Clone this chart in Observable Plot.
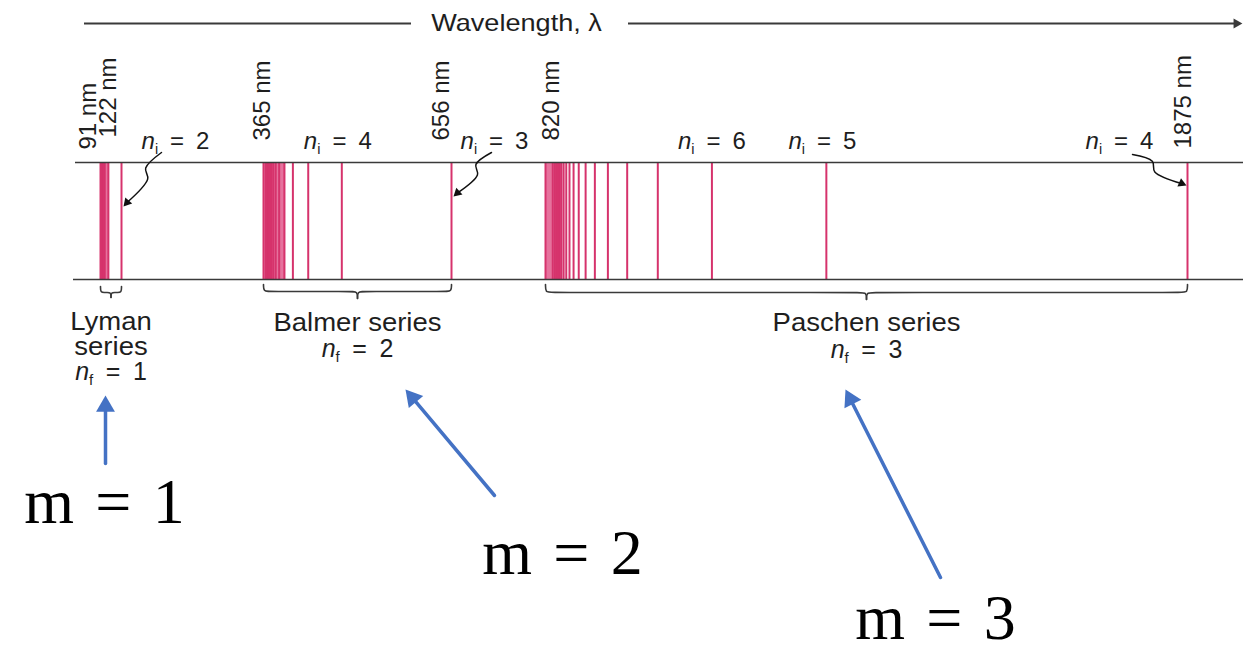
<!DOCTYPE html>
<html>
<head>
<meta charset="utf-8">
<script src="https://cdn.jsdelivr.net/npm/d3@7"></script>
<script src="https://cdn.jsdelivr.net/npm/@observablehq/plot@0.6"></script>
<style>
  html, body { margin: 0; padding: 0; background: #fff; }
  #chart svg { display: block; background: #fff; }
</style>
</head>
<body>
<div id="chart"></div>
<script>
// ---------------- data ----------------
// hydrogen emission lines (nm)
const lymanLines = [121.5, 102.5, 97.2, 94.9, 93.7, 93.0, 92.6, 92.3, 92.0, 91.8, 91.1];
const balmerLines = [656.3, 486.1, 434.0, 410.2, 397.0, 388.9, 383.5, 379.8, 377.1, 375.0, 373.4, 372.2, 371.2, 370.4, 369.7, 369.2, 368.7, 368.3, 364.6];
const paschenLines = [1875.1, 1281.8, 1093.8, 1004.9, 954.6, 922.9, 901.5, 886.3, 875.0, 866.5, 859.8, 854.5, 850.2, 846.7, 843.8, 841.3, 839.2, 835.9, 832.3, 820.4];
// series-limit (crowded) regions, nm
const limitBands = [[91.1, 103.5], [364.6, 399.0], [820.4, 848.0]];
const seriesNames = ["Lyman\nseries", "Balmer series", "Paschen series"];
const seriesNf = [1, 2, 3];
const seriesRange = [[91.1, 121.5], [364.6, 656.3], [820.4, 1875.1]];
// labelled wavelengths (tick labels)
const tickLabels = [91, 122, 365, 656, 820, 1875];
// initial level labels and the line each one names
const niValues = [2, 4, 3, 6, 5, 4];
const niLines = [121.5, 486.1, 656.3, 1093.8, 1281.8, 1875.1];
const mValues = [1, 2, 3];

// ---------------- layout ----------------
const W = 1243, H = 650;
const xDomain = [91.1, 121.5, 364.6, 656.3, 820.4, 1875.1];   // not-to-scale axis anchors
const xRange = [100, 121, 263, 451, 545, 1187];
const xs = Plot.scale({x: {type: "linear", domain: xDomain, range: xRange}});
const nm = p => xs.invert(p);
const px = v => xs.apply(v);

const ink = "#3a3a3a";
const textInk = "#1e1e1e";
const lineColor = "#d6336c";
const bandColor = "#e2598c";
const blue = "#4472c4";
const sans = "'Liberation Sans', Arial, Helvetica, sans-serif";
const serif = "'Liberation Serif', 'Times New Roman', serif";
const EN = "\u2002", TPM = "\u2004";

const headerY = 23, yTop = 162, yBottom = 279;
const tickDx = [-12, -13, -1.5, -9.5, 6.5, -4.5];
const tickBase = [149, 137, 140, 140, 140, 148];
const niDx = [54, -4, 43, 0, -4, -68];
const nameTop = [312, 313, 313];
const nfBase = [379, 356, 357];
const braceY = [[286, 292, 297], [284, 291, 298], [284, 292, 299]];

const allLines = [...lymanLines, ...balmerLines, ...paschenLines];

// braces
function brace(aPx, bPx, [y0, y1, y2], id) {
  const m = (aPx + bPx) / 2, e = Math.min(6, (bPx - aPx) / 5);
  const L = [[aPx, y0], [aPx, y1], [aPx + e, y1], [m - e, y1], [m, y1], [m, y2]];
  const R = [[m, y2], [m, y1], [m + e, y1], [bPx - e, y1], [bPx, y1], [bPx, y0]];
  return [...L.map(p => ({x: nm(p[0]), y: p[1], z: id + "L"})),
          ...R.map(p => ({x: nm(p[0]), y: p[1], z: id + "R"}))];
}
const braceData = seriesRange.flatMap((r, i) => brace(px(r[0]), px(r[1]), braceY[i], i));

// arrow helper
function headFor(tail, tip, r) {
  const dx = tip[0] - tail[0], dy = tip[1] - tail[1], L = Math.hypot(dx, dy);
  const ux = dx / L, uy = dy / L, d = 1.555 * r;
  const c = [tip[0] - ux * d, tip[1] - uy * d];
  const rot = Math.atan2(ux, -uy) * 180 / Math.PI;
  return {c, rot};
}
// blue m-arrows
const mArrowPx = [
  {tail: [105, 463], tip: [105, 395]},
  {tail: [494, 495], tip: [405, 389]},
  {tail: [940, 577], tip: [845, 389]}
];
const mHeadR = 7;
const mShafts = [], mHeads = [];
mArrowPx.forEach((a, i) => {
  const h = headFor(a.tail, a.tip, mHeadR);
  mShafts.push({x: nm(a.tail[0]), y: a.tail[1], z: i}, {x: nm(h.c[0]), y: h.c[1], z: i});
  mHeads.push({x: nm(h.c[0]), y: h.c[1], rot: h.rot});
});
const mLabelPos = [[104, 522], [562, 573], [935, 638]];

// squiggly pointers
const squigPx = [
  {s: [161, 152], e: [123, 206], sign: 1},
  {s: [491, 152], e: [453, 196], sign: 1},
  {s: [1132, 154], e: [1186, 185], sign: -1}
];
const sqR = 3.4;
const sqLines = [], sqHeads = [];
squigPx.forEach((q, i) => {
  const dx = q.e[0] - q.s[0], dy = q.e[1] - q.s[1], L = Math.hypot(dx, dy);
  const nx = -dy / L * q.sign, ny = dx / L * q.sign;
  const p1 = [q.s[0] + 0.33 * dx + 4 * nx, q.s[1] + 0.33 * dy + 4 * ny];
  const p2 = [q.s[0] + 0.45 * dx - 4 * nx, q.s[1] + 0.45 * dy - 4 * ny];
  const h = headFor(p2, q.e, sqR);
  [q.s, p1, p2, h.c].forEach(p => sqLines.push({x: nm(p[0]), y: p[1], z: i}));
  sqHeads.push({x: nm(h.c[0]), y: h.c[1], rot: h.rot});
});

const midNm = i => nm((px(seriesRange[i][0]) + px(seriesRange[i][1])) / 2);

const chart = Plot.plot({
  width: W, height: H, margin: 0,
  x: {type: "linear", domain: xDomain, range: xRange, axis: null},
  y: {type: "linear", domain: [0, H], range: [0, H], axis: null},
  style: {background: "#fff", fontFamily: sans, overflow: "visible"},
  marks: [
    // wavelength header arrow
    Plot.ruleY([headerY], {x1: nm(84), x2: nm(411), stroke: ink, strokeWidth: 2}),
    Plot.ruleY([headerY], {x1: nm(628), x2: nm(1234), stroke: ink, strokeWidth: 2}),
    Plot.dot([0], {x: nm(1236), y: headerY, symbol: "triangle", r: 3.8, rotate: 90, fill: ink}),
    Plot.text(["Wavelength, λ"], {x: nm(516), y: headerY, text: d => d, fontSize: 24, fill: textInk,
      lineAnchor: "middle", fontFamily: sans, className: "wide"}),

    // spectrum
    Plot.rect(limitBands, {x1: d => d[0], x2: d => d[1], y1: yTop, y2: yBottom, fill: bandColor, fillOpacity: 0.85}),
    Plot.ruleX(allLines, {x: d => d, y1: yTop, y2: yBottom, stroke: lineColor, strokeWidth: 2}),
    Plot.ruleY([yTop], {x1: nm(75), x2: nm(1243), stroke: ink, strokeWidth: 1.6}),
    Plot.ruleY([yBottom], {x1: nm(73), x2: nm(1243), stroke: ink, strokeWidth: 1.6}),

    // rotated wavelength labels
    Plot.text(tickLabels, {x: (d, i) => nm(px(d) + tickDx[i]), y: (d, i) => tickBase[i], text: d => `${d} nm`, rotate: -90,
      textAnchor: "start", lineAnchor: "middle", fontSize: 24, fill: textInk, fontFamily: sans}),

    // n_i labels
    Plot.text(niValues, {x: (d, i) => nm(px(niLines[i]) + niDx[i]), y: 148, text: d => `n_i = ${d}`,
      textAnchor: "middle", lineAnchor: "bottom", fontSize: 24, fill: textInk, fontFamily: sans}),

    // squiggly pointers
    Plot.line(sqLines, {x: "x", y: "y", z: "z", curve: "catmull-rom", stroke: "#111", strokeWidth: 1.5}),
    Plot.dot(sqHeads, {x: "x", y: "y", rotate: "rot", symbol: "triangle", r: sqR, fill: "#111"}),

    // braces
    Plot.line(braceData, {x: "x", y: "y", z: "z", curve: "basis", stroke: ink, strokeWidth: 1.6}),

    // series names
    Plot.text(seriesNames, {x: (d, i) => midNm(i), y: (d, i) => nameTop[i],
      text: d => d, textAnchor: "middle", lineAnchor: "top", lineHeight: 1.0, fontSize: 25, fill: textInk,
      fontFamily: sans, className: "wide2"}),
    Plot.text(seriesNf, {x: (d, i) => midNm(i), y: (d, i) => nfBase[i],
      text: d => `n_f = ${d}`, textAnchor: "middle", lineAnchor: "bottom", fontSize: 25, fill: textInk, fontFamily: sans}),

    // blue arrows
    Plot.line(mShafts, {x: "x", y: "y", z: "z", stroke: blue, strokeWidth: 3.5}),
    Plot.dot(mHeads, {x: "x", y: "y", rotate: "rot", symbol: "triangle", r: mHeadR, fill: blue}),

    // m labels
    Plot.text(mValues, {x: (d, i) => nm(mLabelPos[i][0]), y: (d, i) => mLabelPos[i][1], text: d => `m${TPM}=${TPM}${d}`,
      textAnchor: "middle", lineAnchor: "bottom", fontSize: 64, fill: "#000", fontFamily: serif})
  ]
});
document.getElementById("chart").append(chart);

// italic n with subscript, wider spacing around "="
d3.select(chart).selectAll("text").each(function () {
  const m = /^n_([if]) = (\d)$/.exec(this.textContent);
  if (!m) return;
  const el = d3.select(this);
  el.text(null);
  el.append("tspan").attr("font-style", "italic").text("n");
  el.append("tspan").attr("font-size", "0.6em").attr("dy", 5).text(m[1]);
  el.append("tspan").attr("dy", -5).text(`${EN}=${EN}${m[2]}`);
});
// slightly wider lettering for the horizontal captions
function widen(sel, k) {
  d3.select(chart).selectAll(sel).each(function () {
    const t = this.getAttribute("transform");
    if (t) this.setAttribute("transform", t + ` scale(${k},1)`);
    else {
      const x = +this.getAttribute("x") || 0, y = +this.getAttribute("y") || 0;
      this.removeAttribute("x"); this.removeAttribute("y");
      this.setAttribute("transform", `translate(${x},${y}) scale(${k},1)`);
    }
  });
}
widen(".wide text, text.wide", 1.13);
widen(".wide2 text, text.wide2", 1.1);
</script>
</body>
</html>
